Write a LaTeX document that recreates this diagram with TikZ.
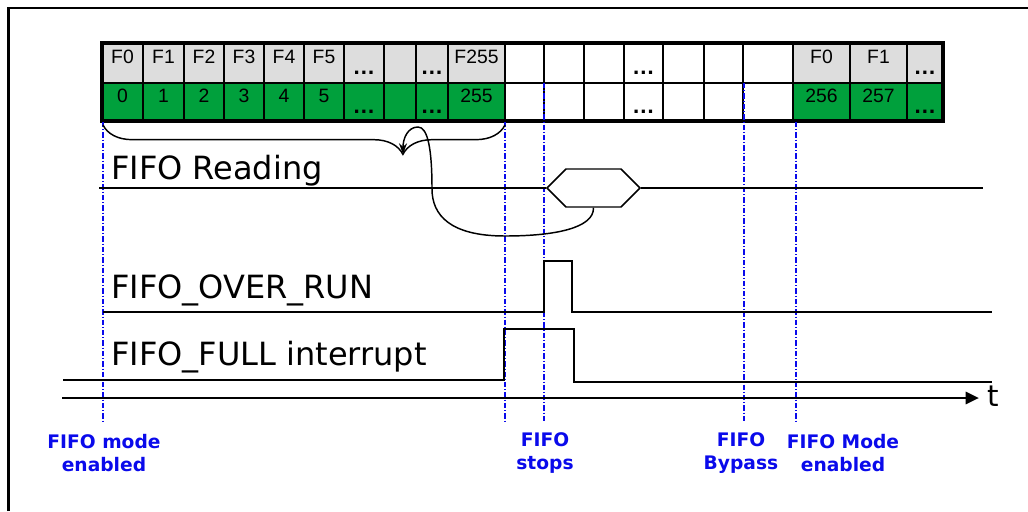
\documentclass[tikz,border=0pt]{standalone}
\usepackage{fontspec}
\setmainfont{Liberation Sans}
\newfontfamily\tahfont{DejaVu Sans}
\usetikzlibrary{arrows.meta,decorations.pathreplacing,shapes.symbols}
\definecolor{fifoGreen}{RGB}{0,160,60}
\definecolor{fifoGray}{RGB}{221,221,221}
\definecolor{fifoBlue}{RGB}{10,10,235}

\begin{document}
\begin{tikzpicture}[x=0.75pt,y=-0.75pt,
  celltxt/.style={anchor=base,inner sep=0pt,font=\fontsize{14.5}{16}\selectfont},
  dotstxt/.style={anchor=base,inner sep=0pt,font=\bfseries\fontsize{17}{18}\selectfont},
  sigtxt/.style={anchor=base west,inner sep=0pt,font=\tahfont\fontsize{24}{28}\selectfont},
  evtxt/.style={align=center,inner sep=0pt,text=fifoBlue,font=\tahfont\bfseries\fontsize{14}{17}\selectfont},
  wave/.style={line width=1.5pt,line join=miter},
  markline/.style={fifoBlue,line width=0.8pt,dash pattern=on 4pt off 1.5pt on 0.8pt off 1.5pt},
  hexsig/.style={draw,line width=1.1pt,shape=signal,signal to=west and east,signal pointer angle=90,
    minimum width=69.75pt,minimum height=28.5pt,inner sep=0pt,fill=white}]
  \useasboundingbox (0,0) rectangle (1028,511);
  \draw[line width=1.9pt] (8.5,511) -- (8.5,8) -- (1028,8);

  \foreach \xa/\xb in {102/505,793/943} {
    \fill[fifoGray] (\xa,43) rectangle (\xb,83);
    \fill[fifoGreen] (\xa,83) rectangle (\xb,121);
  }
  \foreach \cx/\ta/\tb [count=\i] in {122.5/F0/0,163.5/F1/1,204/F2/2,244/F3/3,284/F4/4,
      324/F5/5,476.5/F255/255,821.5/F0/256,878.5/F1/257} {
    \node[celltxt] (ft\i) at (\cx,63) {\ta};
    \node[celltxt] (fb\i) at (\cx,102) {\tb};
  }
  \foreach \cx [count=\i] in {364,432,643.5,925} {
    \node[dotstxt] (dt\i) at (\cx,74) {…};
    \node[dotstxt] (db\i) at (\cx,113) {…};
  }
  \foreach \x in {143,184,224,264,304,344,384,416,448,505,544,584,624,663,704,743,793,850,907}
    \draw[line width=1.1pt] (\x,43) -- (\x,121);
  \draw[line width=1.1pt] (102,83) -- (943,83);
  \draw[line width=2.6pt] (102,43) rectangle (943,121);

  \foreach \x/\ytop in {103/122,505/122,544/83,744/83,796/122}
    \draw[markline] (\x,\ytop) -- (\x,422);

  \node[sigtxt] (lread) at (111,179) {FIFO Reading};
  \node[sigtxt] (lover) at (111,298) {FIFO\_OVER\_RUN};
  \node[sigtxt] (lfull) at (111,365) {FIFO\_FULL interrupt};

  \node[hexsig] (hex) at (593.5,188) {};
  \draw[wave] (99,188) -- (hex.west);
  \draw[wave] (hex.east) -- (983,188);

  \draw[line width=1.1pt,decorate,decoration={brace,amplitude=22pt,aspect=0.254}]
    (505,125) -- (103,125);
  \coordinate (bt) at (403,154);
  \draw[line width=1.1pt,-{Stealth[length=8pt,width=6pt]}] (hex.south)
    .. controls (594,228) and (555,236) .. (505,236)
    .. controls (450,236) and (432,215) .. (432,189)
    .. controls (432,150) and (428,127) .. (418,127)
    .. controls (408,127) and (403,138) .. (bt);

  \draw[wave] (103,312) -- (544,312) -- (544,261) -- (572,261) -- (572,312) -- (992,312);
  \draw[wave] (63,380) -- (504,380) -- (504,329) -- (574,329) -- (574,382) -- (992,382);
  \draw[line width=2.2pt,-{Triangle[length=10pt,width=9pt]}] (62,398) -- (979,398);
  \node[inner sep=0pt,font=\tahfont\fontsize{22}{26}\selectfont] (tl) at (993,396) {t};

  \node[evtxt] (lmode) at (104,453) {FIFO mode\\enabled};
  \node[evtxt] (lstop) at (545,453) {FIFO\\stops};
  \node[evtxt] (lbyp) at (741,453) {FIFO\\Bypass};
  \node[evtxt] (lmode2) at (843,453) {FIFO Mode\\enabled};
\end{tikzpicture}
\end{document}
